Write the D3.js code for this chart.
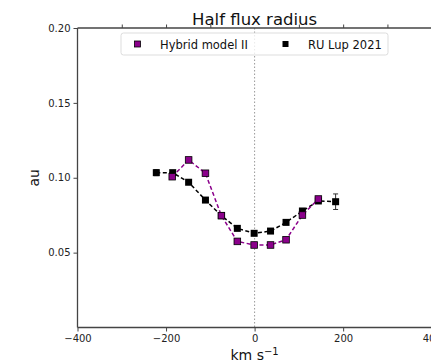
<!DOCTYPE html>
<html>
<head>
<meta charset="utf-8">
<script src="https://cdn.jsdelivr.net/npm/d3@7"></script>
<style>
  html, body { margin: 0; padding: 0; background: #fff; }
  svg { display: block; font-family: "DejaVu Sans", sans-serif; }
</style>
</head>
<body>
<svg id="chart" width="431" height="364"></svg>
<script>
// Half flux radius versus velocity
const modelVel = [-186, -149, -111, -75, -39, -1, 36, 71, 108, 144];
const modelRad = [0.1007, 0.1119, 0.1030, 0.0747, 0.0575, 0.0551, 0.0551, 0.0586, 0.0751, 0.0858];

const obsVel = [-222, -185, -149, -111, -75, -39, -1, 36, 71, 108, 144, 183];
const obsRad = [0.1034, 0.1034, 0.0970, 0.0851, 0.0747, 0.0662, 0.0629, 0.0644, 0.0702, 0.0778, 0.0845, 0.0840];
const obsErr = [0.0020, 0.0012, 0.0010, 0.0010, 0.0010, 0.0010, 0.0010, 0.0010, 0.0010, 0.0012, 0.0015, 0.0052];

const xTicks = [-400, -200, 0, 200, 400];
const xMinorTop = [-300, -200, -100, 100, 200, 300];
const yTicks = [0.05, 0.10, 0.15, 0.20];

const seriesNames = ["Hybrid model II", "RU Lup 2021"];
const seriesColors = ["#8b008b", "#000000"];

const svg = d3.select("#chart");
const plotLeft = 77.5, plotRight = 431.7, plotTop = 28, plotBottom = 327.5;

const x = d3.scaleLinear().domain([-400, 400]).range([plotLeft, plotRight]);
const y = d3.scaleLinear().domain([0, 0.2]).range([plotBottom, plotTop]);

const axisColor = "#444";
const fmtMinus = s => s.replace("-", "\u2212");

// zero-velocity reference line
svg.append("line")
  .attr("x1", x(0)).attr("x2", x(0))
  .attr("y1", y(0.2)).attr("y2", y(0))
  .attr("stroke", "#999").attr("stroke-width", 1)
  .attr("stroke-dasharray", "1.5,2");

// bottom axis
const xAxis = svg.append("g").attr("transform", `translate(0,${plotBottom})`)
  .call(d3.axisBottom(x).tickValues(xTicks).tickSize(4).tickPadding(3)
    .tickFormat(d => fmtMinus(d3.format("d")(d))));
// top axis (ticks only)
const xTop = svg.append("g").attr("transform", `translate(0,${plotTop})`)
  .call(d3.axisTop(x).tickValues(xMinorTop).tickSize(3.5).tickFormat(""));
// left axis
const yAxis = svg.append("g").attr("transform", `translate(${plotLeft},0)`)
  .call(d3.axisLeft(y).tickValues(yTicks).tickSize(4).tickPadding(3)
    .tickFormat(d3.format(".2f")));

[xAxis, xTop, yAxis].forEach(g => {
  g.select(".domain").attr("stroke", axisColor).attr("stroke-width", 1.3);
  g.selectAll(".tick line").attr("stroke", axisColor).attr("stroke-width", 1);
  g.selectAll(".tick text").attr("fill", "#222")
    .style("font-family", "DejaVu Sans, sans-serif").style("font-size", "10px");
});
xTop.select(".domain").attr("d", `M${plotLeft},0H${plotRight}`);
xAxis.select(".domain").attr("d", `M${plotLeft},0H${plotRight}`);
yAxis.select(".domain").attr("d", `M0,${plotBottom}V${plotTop}`);

// title and axis labels
svg.append("text").attr("x", x(0)).attr("y", 25)
  .attr("text-anchor", "middle").attr("font-size", "16.5px").attr("fill", "#111")
  .text("Half flux radius");

const xl = svg.append("text").attr("x", x(0)).attr("y", 360)
  .attr("text-anchor", "middle").attr("font-size", "14px").attr("fill", "#111");
xl.append("tspan").text("km s");
xl.append("tspan").attr("dy", -5.5).attr("font-size", "10px").text("\u22121");

svg.append("text")
  .attr("transform", `translate(38.5,${y(0.1)}) rotate(-90)`)
  .attr("text-anchor", "middle").attr("font-size", "14px").attr("fill", "#111")
  .text("au");

// series
const line = d3.line().x(d => x(d[0])).y(d => y(d[1]));
const modelPts = modelVel.map((v, i) => [v, modelRad[i]]);
const obsPts = obsVel.map((v, i) => [v, obsRad[i], obsErr[i]]);

svg.append("path").datum(obsPts).attr("d", line)
  .attr("fill", "none").attr("stroke", seriesColors[1])
  .attr("stroke-width", 1.5).attr("stroke-dasharray", "4,2.5");

// error bars
const eb = svg.append("g").attr("stroke", "#333").attr("stroke-width", 1);
obsPts.forEach(d => {
  eb.append("line").attr("x1", x(d[0])).attr("x2", x(d[0]))
    .attr("y1", y(d[1] - d[2])).attr("y2", y(d[1] + d[2]));
  [d[1] - d[2], d[1] + d[2]].forEach(v => eb.append("line")
    .attr("x1", x(d[0]) - 2.5).attr("x2", x(d[0]) + 2.5)
    .attr("y1", y(v)).attr("y2", y(v)));
});

svg.append("g").selectAll("rect").data(obsPts).join("rect")
  .attr("x", d => x(d[0]) - 3.5).attr("y", d => y(d[1]) - 3.5)
  .attr("width", 7).attr("height", 7).attr("fill", "#000");

svg.append("path").datum(modelPts).attr("d", line)
  .attr("fill", "none").attr("stroke", seriesColors[0])
  .attr("stroke-width", 1.5).attr("stroke-dasharray", "4,2.5");

svg.append("g").selectAll("rect").data(modelPts).join("rect")
  .attr("x", d => x(d[0]) - 3.3).attr("y", d => y(d[1]) - 3.3)
  .attr("width", 6.6).attr("height", 6.6)
  .attr("fill", seriesColors[0]).attr("stroke", "#000").attr("stroke-width", 0.8);

// legend
const lg = svg.append("g");
lg.append("rect").attr("x", 121).attr("y", 33).attr("width", 267).attr("height", 22)
  .attr("rx", 2.5).attr("fill", "#fff").attr("fill-opacity", 0.8)
  .attr("stroke", "#ddd").attr("stroke-width", 1);
const legendX = [137.5, 285.5];
seriesNames.forEach((name, i) => {
  lg.append("rect").attr("x", legendX[i] - 3).attr("y", 41).attr("width", 6).attr("height", 6)
    .attr("fill", seriesColors[i]).attr("stroke", "#000").attr("stroke-width", i === 0 ? 0.8 : 0);
  lg.append("text").attr("x", legendX[i] + 22.5).attr("y", 48.5)
    .attr("font-size", "11.5px").attr("fill", "#111").text(name);
});
</script>
</body>
</html>
